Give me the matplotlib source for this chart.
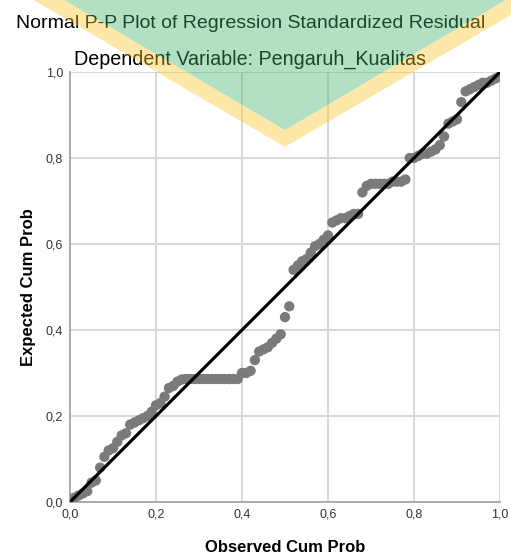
import matplotlib
matplotlib.use('Agg')
import matplotlib.pyplot as plt
from matplotlib.patches import Polygon

plt.rcParams['font.family'] = ['Liberation Sans', 'DejaVu Sans']

# observed cumulative probability (x) and expected cumulative probability (y)
observed = [0.01, 0.02, 0.03, 0.04, 0.05, 0.06, 0.07, 0.08, 0.09, 0.10,
            0.11, 0.12, 0.13, 0.14, 0.15, 0.16, 0.17, 0.18, 0.19, 0.20,
            0.21, 0.22, 0.23, 0.24, 0.25, 0.26, 0.27, 0.28, 0.29, 0.30,
            0.31, 0.32, 0.33, 0.34, 0.35, 0.36, 0.37, 0.38, 0.39, 0.40,
            0.41, 0.42, 0.43, 0.44, 0.45, 0.46, 0.47, 0.48, 0.49, 0.50,
            0.51, 0.52, 0.53, 0.54, 0.55, 0.56, 0.57, 0.58, 0.59, 0.60,
            0.61, 0.62, 0.63, 0.64, 0.65, 0.66, 0.67, 0.68, 0.69, 0.70,
            0.71, 0.72, 0.73, 0.74, 0.75, 0.76, 0.77, 0.78, 0.79, 0.80,
            0.81, 0.82, 0.83, 0.84, 0.85, 0.86, 0.87, 0.88, 0.89, 0.90,
            0.91, 0.92, 0.93, 0.94, 0.95, 0.96, 0.97, 0.98, 0.99, 1.00]
expected = [0.010, 0.015, 0.020, 0.025, 0.045, 0.050, 0.080, 0.105, 0.120, 0.125,
            0.140, 0.155, 0.160, 0.180, 0.185, 0.190, 0.195, 0.200, 0.210, 0.225,
            0.230, 0.245, 0.265, 0.270, 0.280, 0.285, 0.286, 0.286, 0.286, 0.286,
            0.286, 0.286, 0.286, 0.286, 0.286, 0.286, 0.286, 0.286, 0.286, 0.300,
            0.300, 0.305, 0.330, 0.350, 0.355, 0.360, 0.370, 0.380, 0.390, 0.430,
            0.455, 0.540, 0.550, 0.560, 0.565, 0.580, 0.595, 0.600, 0.610, 0.620,
            0.650, 0.655, 0.660, 0.660, 0.665, 0.670, 0.670, 0.720, 0.735, 0.740,
            0.740, 0.740, 0.740, 0.740, 0.745, 0.745, 0.745, 0.750, 0.800, 0.800,
            0.805, 0.810, 0.810, 0.815, 0.820, 0.830, 0.850, 0.880, 0.885, 0.890,
            0.930, 0.955, 0.960, 0.965, 0.970, 0.975, 0.975, 0.980, 0.985, 0.990]

diag = [0.0, 1.0]
ticks = [0.0, 0.2, 0.4, 0.6, 0.8, 1.0]
tick_labels = ['0,0', '0,2', '0,4', '0,6', '0,8', '1,0']

W, H = 511, 559
fig = plt.figure(figsize=(W / 100, H / 100), dpi=100)
ax = fig.add_axes([70 / W, 1 - 502 / H, 430 / W, 430 / H])

ax.scatter(observed, expected, s=55, color='#7a7a7a', edgecolors='none', zorder=3)
ax.plot(diag, diag, color='black', lw=2.3, zorder=4, solid_capstyle='butt')

ax.set_xlim(0, 1)
ax.set_ylim(0, 1)
ax.set_xticks(ticks)
ax.set_yticks(ticks)
ax.set_xticklabels(tick_labels)
ax.set_yticklabels(tick_labels)
ax.tick_params(axis='both', labelsize=9, labelcolor='#333333', length=0, pad=5)
ax.grid(True, color='#d4d4d4', lw=1.3)
ax.set_axisbelow(True)
for side in ['top', 'right']:
    ax.spines[side].set_visible(False)
for side in ['left', 'bottom']:
    ax.spines[side].set_color('#a6a6a6')
    ax.spines[side].set_linewidth(1.3)

ax.set_xlabel('Observed Cum Prob', fontsize=12, fontweight='bold', labelpad=14)
ax.set_ylabel('Expected Cum Prob', fontsize=12, fontweight='bold', labelpad=7)

fig.text(251 / W, 1 - 23 / H, 'Normal P-P Plot of Regression Standardized Residual',
         ha='center', va='center', fontsize=14, color='black')
fig.text(250 / W, 1 - 59 / H, 'Dependent Variable: Pengaruh_Kualitas',
         ha='center', va='center', fontsize=14.2, color='black')

# faded logo watermark at the top
def px(pts):
    return [(x / W, 1 - y / H) for x, y in pts]

band = Polygon(px([(30, -2), (285, 147), (540, -2), (509, -2), (285, 130), (61, -2)]),
               closed=True, transform=fig.transFigure, facecolor=(250 / 255, 198 / 255, 42 / 255),
               alpha=0.4, edgecolor='none', zorder=10)
inner = Polygon(px([(61, -2), (285, 130), (509, -2)]),
                closed=True, transform=fig.transFigure, facecolor=(63 / 255, 178 / 255, 108 / 255),
                alpha=0.4, edgecolor='none', zorder=10)
fig.patches.extend([band, inner])

fig.savefig('out.png', dpi=100)
